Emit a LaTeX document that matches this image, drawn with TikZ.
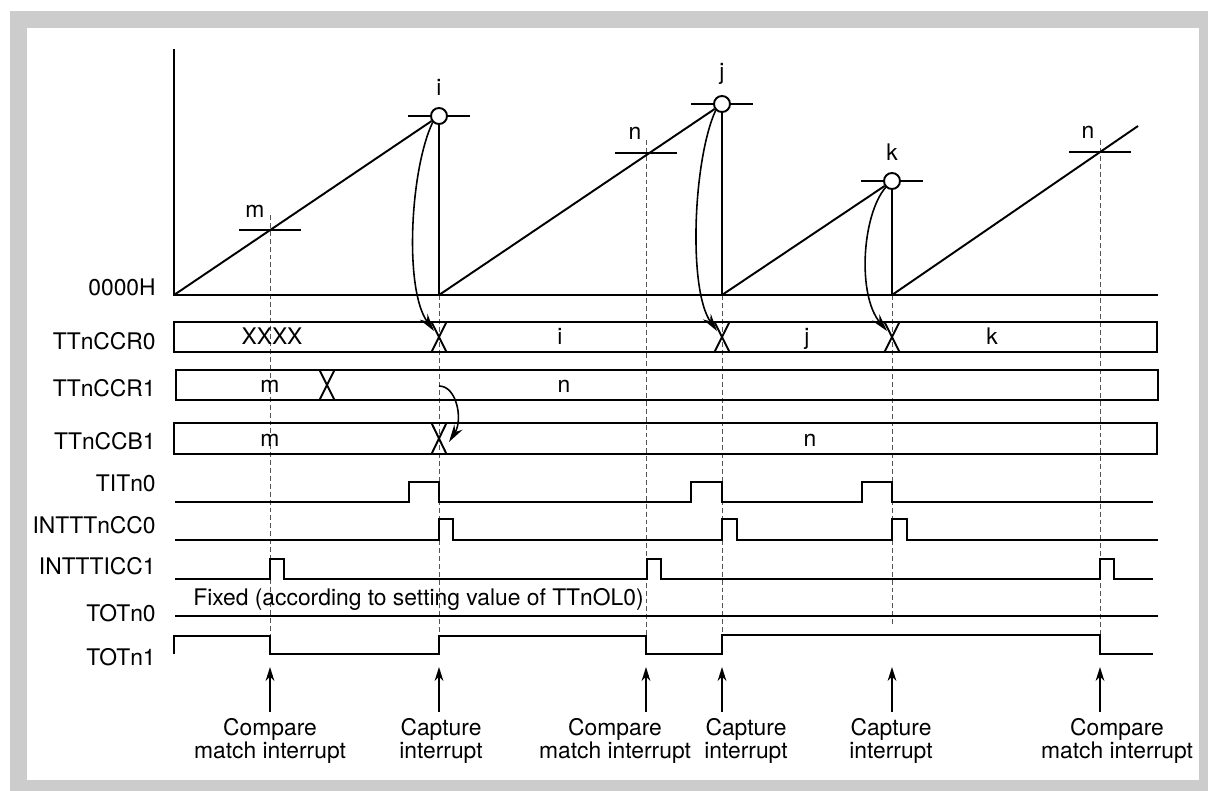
\documentclass[tikz,border=0pt]{standalone}
\usepackage{fontspec}
\setmainfont{TeX Gyre Heros}
\usepackage{tikz}
\usetikzlibrary{arrows.meta}
\definecolor{framegray}{HTML}{CCCCCC}
\definecolor{guidegray}{HTML}{555555}

\begin{document}
\begin{tikzpicture}[x=0.02cm, y=-0.02cm,
    every node/.style={font=\fontsize{13pt}{11.6pt}\selectfont, inner sep=0pt},
    wave/.style={line width=1.1pt, line join=miter},
    guideline/.style={draw=guidegray, line width=0.55pt, dash pattern=on 2.8pt off 1.7pt},
    valpoint/.style={circle, draw, fill=white, line width=1.1pt, minimum size=0.32cm},
    rowlabel/.style={anchor=east},
    busval/.style={anchor=base},
    copyarrow/.style={-{Stealth[length=10pt, width=5.5pt]}, line width=0.9pt},
    eventarrow/.style={-{Stealth[length=8pt, width=5pt]}, line width=1.1pt},
    eventlabel/.style={anchor=north, align=center},
  ]
  % Frame
  \useasboundingbox (0,0) rectangle (1208,791);
  \fill[framegray] (10,11) rectangle (1208,791);
  \fill[white] (27,28) rectangle (1199,780);

  % Dashed guides at the events
  \draw[guideline] (270,215) -- (270,636);
  \draw[guideline] (439,295) -- (439,636);
  \draw[guideline] (646,140) -- (646,636);
  \draw[guideline] (722,295) -- (722,636);
  \draw[guideline] (892,295) -- (892,624);
  \draw[guideline] (1100,140) -- (1100,635);

  % Counter - axes, compare levels and capture points
  \draw[wave] (174,49) -- (174,295) -- (1158,295);
  \foreach \x/\y in {270/230, 439/116, 646/153, 722/104, 892/181, 1100/152}
    \draw[wave] (\x-31,\y) -- (\x+31,\y);
  \node[valpoint] (ci) at (439,116) {};
  \node[valpoint] (cj) at (722,104) {};
  \node[valpoint] (ck) at (892,181) {};
  \draw[wave] (174,295) -- (ci) (ci) -- (439,295);
  \draw[wave] (439,295) -- (cj) (cj) -- (722,295);
  \draw[wave] (722,295) -- (ck) (ck) -- (892,295);
  \draw[wave] (892,295) -- (1138,126);
  \node[busval] (vi) at (439,95) {i};
  \node[busval] (vj) at (722,79) {j};
  \node[busval] (vk) at (892,160) {k};
  \node[busval] (vm) at (255,217.5) {m};
  \node[busval] (vn1) at (635,139.5) {n};
  \node[busval] (vn2) at (1088,138.5) {n};

  % Registers
  \draw[wave] (174,322) rectangle (1157,352);
  \draw[wave] (176,370) rectangle (1158,400);
  \draw[wave] (174,423) rectangle (1157,454);
  \foreach \c/\t/\b in {439/322/352, 722/322/352, 892/322/352, 327/370/400, 439/423/454}
    \draw[wave] (\c-7.5,\t) -- (\c+7.5,\b) (\c-7.5,\b) -- (\c+7.5,\t);
  \node[busval] (r0a) at (272,344.5) {XXXX};
  \node[busval] (r0b) at (560,344.5) {i};
  \node[busval] (r0c) at (807,344.5) {j};
  \node[busval] (r0d) at (992,344.5) {k};
  \node[busval] (r1a) at (270,392.5) {m};
  \node[busval] (r1b) at (564,392.5) {n};
  \node[busval] (b1a) at (270,446) {m};
  \node[busval] (b1b) at (810,446) {n};

  % Captured values go into TTnCCR0, TTnCCR1 is copied into TTnCCB1
  \coordinate (xi) at (434,331);
  \coordinate (xj) at (717,331);
  \coordinate (xk) at (887,331);
  \draw[copyarrow] (ci.225) .. controls (410,170) and (404,290) .. (xi);
  \draw[copyarrow] (cj.225) .. controls (693,160) and (688,290) .. (xj);
  \draw[copyarrow] (ck.225) .. controls (862,215) and (857,295) .. (xk);
  \coordinate (r1src) at (439,386);
  \coordinate (b1dst) at (449,442);
  \draw[copyarrow] (r1src) .. controls (457,386) and (463,420) .. (b1dst);

  % Signals
  \draw[wave] (175,502) -- (409,502) |- (439,482) |- (691,502) |- (722,482)
    |- (862,502) |- (892,482) |- (1153,502);
  \draw[wave] (175,540) -- (439,540) |- (453,519) |- (722,540) |- (737,519)
    |- (892,540) |- (907,519) |- (1158,540);
  \draw[wave] (175,579) -- (270,579) |- (284,559) |- (647,579) |- (661,559)
    |- (1100,579) |- (1114,559) |- (1153,579);
  \draw[wave] (175,616) -- (1158,616);
  \draw[wave] (174,654) -- (174,636) -- (270,636) |- (439,654) |- (646,636)
    |- (722,654) |- (1100,635) |- (1153,654);
  \node[anchor=base west] (fixtxt) at (193,605)
    {Fixed (according to setting value of TTnOL0)};

  % Row labels
  \node[rowlabel] (lzero) at (156,287) {0000H};
  \node[rowlabel] (lccr0) at (156,341) {TTnCCR0};
  \node[rowlabel] (lccr1) at (156,388) {TTnCCR1};
  \node[rowlabel] (lccb1) at (156,441) {TTnCCB1};
  \node[rowlabel] (ltit) at (156,483) {TITn0};
  \node[rowlabel] (lintcc0) at (156,525) {INTTTnCC0};
  \node[rowlabel] (lintcc1) at (156,566) {INTTTICC1};
  \node[rowlabel] (ltot0) at (156,613) {TOTn0};
  \node[rowlabel] (ltot1) at (156,657) {TOTn1};

  % Interrupt events
  \foreach \x [count=\i] in {270,439,646,722,892,1100} {
    \coordinate (foot\i) at (\x,712);
    \coordinate (head\i) at (\x,667);
    \draw[eventarrow] (foot\i) -- (head\i);
  }
  \node[eventlabel] (ev1) at (270,718) {Compare\\match interrupt};
  \node[eventlabel] (ev2) at (441,718) {Capture\\interrupt};
  \node[eventlabel] (ev3) at (615,718) {Compare\\match interrupt};
  \node[eventlabel] (ev4) at (746,718) {Capture\\interrupt};
  \node[eventlabel] (ev5) at (891,718) {Capture\\interrupt};
  \node[eventlabel] (ev6) at (1117,718) {Compare\\match interrupt};
\end{tikzpicture}
\end{document}
